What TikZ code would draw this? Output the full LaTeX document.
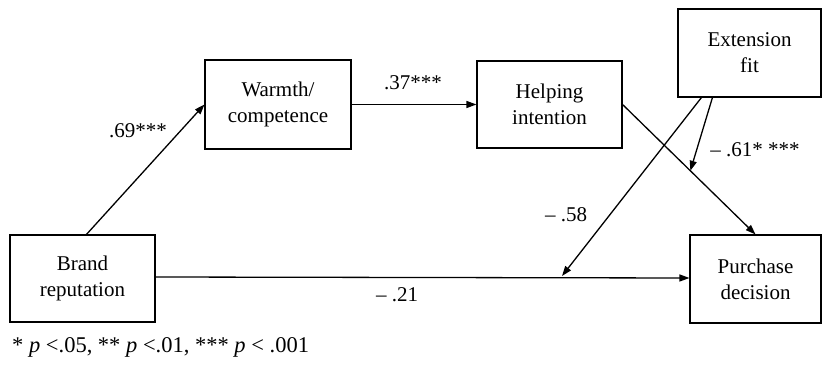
\documentclass[tikz,border=0pt]{standalone}
\usepackage{fontspec}
\setmainfont{Liberation Serif}
\usetikzlibrary{arrows.meta,calc}
\begin{document}
\begin{tikzpicture}[x=1pt,y=-1pt,
  box/.style={draw,line width=1.1pt,inner sep=0pt,align=center,
    font=\fontsize{21}{26}\selectfont},
  lab/.style={font=\fontsize{21}{24}\selectfont,inner sep=0pt},
  conn/.style={line width=1.3pt,-{Triangle[length=10pt,width=7pt]}}]
\useasboundingbox (0,0) rectangle (822,366);
\node[box,minimum width=145pt,minimum height=87pt] (brand) at (82.5,278.5) {Brand\\reputation};
\node[box,minimum width=146pt,minimum height=89pt] (warmth) at (278,104.5) {Warmth/\\competence};
\node[box,minimum width=145pt,minimum height=87pt] (helping) at (549.5,104.5) {Helping\\intention};
\node[box,minimum width=143pt,minimum height=88pt] (ext) at (749.5,53) {Extension\\fit};
\node[box,minimum width=131pt,minimum height=88pt] (purchase) at (755.5,279) {Purchase\\decision};
\draw[conn] ([xshift=77pt]brand.north west) -- (warmth.west);
\draw[conn] (warmth.east) -- (helping.west);
\draw[conn] (helping.east) -- (purchase.north);
\draw[conn] ([yshift=1.5pt]brand.east) -- ([yshift=1pt]purchase.west);
\path (helping.east) -- (purchase.north) coordinate[pos=0.51] (m2);
\coordinate (m1) at (562,276);
\draw[conn] ([xshift=24pt]ext.south west) -- (m1);
\draw[conn] ([xshift=35pt]ext.south west) -- (m2);
\node[lab] (l69) at (138,131) {.69***};
\node[lab] (l37) at (413,83) {.37***};
\node[lab] (l58) at (566,215) {\textendash\ .58};
\node[lab] (l61) at (755,150) {\textendash\ .61* ***};
\node[lab] (l21) at (397,295) {\textendash\ .21};
\node[lab,anchor=west,font=\fontsize{22.5}{26}\selectfont] (foot) at (12,347) {* \textit{p} <.05, ** \textit{p} <.01, *** \textit{p} < .001};
\end{tikzpicture}
\end{document}
